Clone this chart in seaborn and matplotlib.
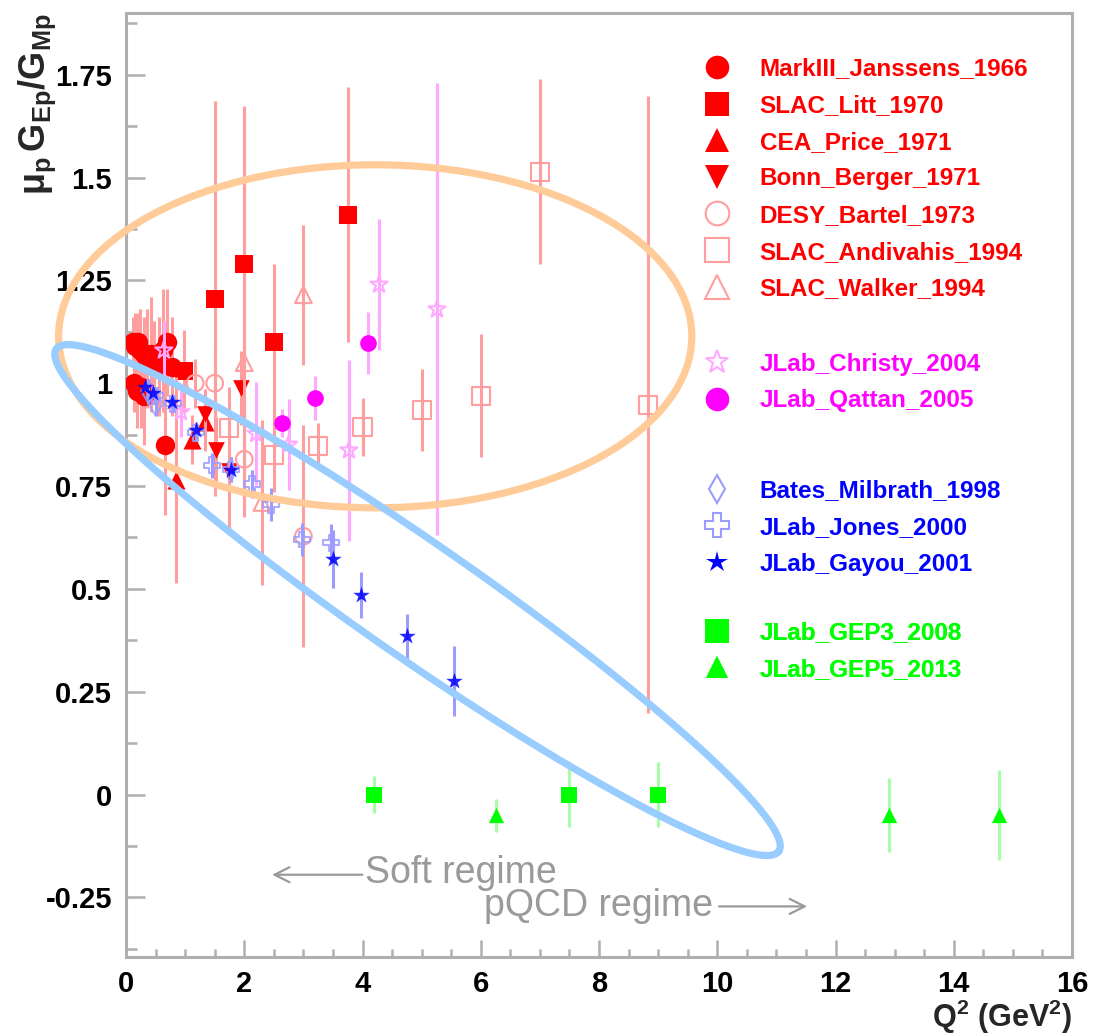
import numpy as np
import matplotlib
matplotlib.use("Agg")
import matplotlib.pyplot as plt
import seaborn as sns
from matplotlib.lines import Line2D
from matplotlib.patches import Ellipse
from matplotlib.ticker import MultipleLocator, FixedLocator, FixedFormatter

# ---------------------------------------------------------------- data
# mu_p G_Ep / G_Mp ratio versus Q^2 (GeV^2), with symmetric errors

markIII_q2 = [0.12, 0.16, 0.20, 0.24, 0.30, 0.36, 0.42, 0.48, 0.56, 0.62, 0.70, 0.78, 0.14, 0.19, 0.25, 0.31, 0.66]
markIII_ratio = [1.10, 1.09, 1.10, 1.08, 1.07, 1.06, 1.07, 1.05, 1.04, 1.08, 1.10, 1.04, 1.00, 0.98, 0.99, 0.97, 0.85]
markIII_err = [0.06, 0.08, 0.07, 0.10, 0.09, 0.12, 0.14, 0.10, 0.12, 0.15, 0.13, 0.12, 0.07, 0.09, 0.10, 0.12, 0.17]

litt_q2 = [0.98, 1.5, 2.0, 2.5, 3.75]
litt_ratio = [1.03, 1.205, 1.29, 1.10, 1.41]
litt_err = [0.10, 0.48, 0.385, 0.19, 0.31]

price_q2 = [0.85, 1.11, 1.34]
price_ratio = [0.765, 0.863, 0.905]
price_err = [0.25, 0.06, 0.07]

berger_q2 = [1.34, 1.53, 1.75, 1.95]
berger_ratio = [0.925, 0.838, 0.786, 0.988]
berger_err = [0.06, 0.08, 0.15, 0.09]

bartel_q2 = [1.17, 1.5, 2.0, 3.0]
bartel_ratio = [1.0, 1.0, 0.815, 0.628]
bartel_err = [0.06, 0.08, 0.14, 0.27]

andivahis_q2 = [1.75, 2.5, 3.25, 4.0, 5.0, 6.0, 7.0, 8.83]
andivahis_ratio = [0.891, 0.826, 0.848, 0.894, 0.934, 0.97, 1.514, 0.948]
andivahis_err = [0.10, 0.09, 0.056, 0.07, 0.10, 0.15, 0.225, 0.75]

walker_q2 = [2.0, 2.3, 3.0]
walker_ratio = [1.05, 0.71, 1.215]
walker_err = [0.145, 0.20, 0.17]

christy_q2 = [0.64, 0.93, 2.2, 2.75, 3.77, 4.28, 5.26]
christy_ratio = [1.08, 0.93, 0.877, 0.851, 0.837, 1.24, 1.18]
christy_err = [0.07, 0.06, 0.125, 0.11, 0.22, 0.16, 0.55]

qattan_q2 = [2.64, 3.2, 4.1]
qattan_ratio = [0.903, 0.964, 1.098]
qattan_err = [0.035, 0.053, 0.076]

milbrath_q2 = [0.38, 0.5]
milbrath_ratio = [0.98, 0.95]
milbrath_err = [0.03, 0.03]

jones_q2 = [0.49, 0.79, 1.18, 1.45, 1.77, 2.13, 2.45, 2.97, 3.47]
jones_ratio = [0.97, 0.95, 0.88, 0.80, 0.79, 0.755, 0.705, 0.62, 0.612]
jones_err = [0.02, 0.02, 0.02, 0.03, 0.03, 0.035, 0.04, 0.04, 0.045]

gayou_q2 = [0.32, 0.46, 0.77, 1.18, 1.77, 3.5, 3.97, 4.75, 5.54]
gayou_ratio = [0.99, 0.975, 0.955, 0.885, 0.79, 0.572, 0.485, 0.385, 0.275]
gayou_err = [0.01, 0.01, 0.015, 0.02, 0.03, 0.07, 0.055, 0.055, 0.085]

gep3_q2 = [4.2, 7.5, 9.0]
gep3_ratio = [0.0, 0.0, 0.0]
gep3_err = [0.045, 0.08, 0.08]

gep5_q2 = [6.25, 12.9, 14.77]
gep5_ratio = [-0.05, -0.05, -0.05]
gep5_err = [0.04, 0.09, 0.11]

labels = ["MarkIII_Janssens_1966", "SLAC_Litt_1970", "CEA_Price_1971", "Bonn_Berger_1971",
          "DESY_Bartel_1973", "SLAC_Andivahis_1994", "SLAC_Walker_1994",
          "JLab_Christy_2004", "JLab_Qattan_2005",
          "Bates_Milbrath_1998", "JLab_Jones_2000", "JLab_Gayou_2001",
          "JLab_GEP3_2008", "JLab_GEP5_2013"]

x_ticks = [0, 2, 4, 6, 8, 10, 12, 14, 16]
y_ticks = [-0.25, 0, 0.25, 0.5, 0.75, 1, 1.25, 1.5, 1.75]
y_tick_labels = ["-0.25", "0", "0.25", "0.5", "0.75", "1", "1.25", "1.5", "1.75"]

# ---------------------------------------------------------------- styles
RED, MAG, BLUE, GREEN = "#FF0000", "#FF00FF", "#0000FF", "#00FF00"
LRED, LMAG, LBLUE, LGREEN = "#FF9E9E", "#FFA8FF", "#9C9CFF", "#A6FFA6"

series = [
    # data, marker, size(pt), filled, marker colour, bar colour, text colour, alpha
    ((markIII_q2, markIII_ratio, markIII_err), "o", 14, True, RED, LRED, RED, 1.0),
    ((litt_q2, litt_ratio, litt_err), "s", 13, True, RED, LRED, RED, 1.0),
    ((price_q2, price_ratio, price_err), "^", 13, True, RED, LRED, RED, 1.0),
    ((berger_q2, berger_ratio, berger_err), "v", 12, True, RED, LRED, RED, 1.0),
    ((bartel_q2, bartel_ratio, bartel_err), "o", 12, False, LRED, LRED, RED, 1.0),
    ((andivahis_q2, andivahis_ratio, andivahis_err), "s", 13, False, LRED, LRED, RED, 1.0),
    ((walker_q2, walker_ratio, walker_err), "^", 12, False, LRED, LRED, RED, 1.0),
    ((christy_q2, christy_ratio, christy_err), "*", 13, False, LMAG, LMAG, MAG, 1.0),
    ((qattan_q2, qattan_ratio, qattan_err), "o", 12, True, MAG, LMAG, MAG, 1.0),
    ((milbrath_q2, milbrath_ratio, milbrath_err), "d", 12, False, LBLUE, LBLUE, BLUE, 0.8),
    ((jones_q2, jones_ratio, jones_err), "P", 11.5, False, LBLUE, LBLUE, BLUE, 0.85),
    ((gayou_q2, gayou_ratio, gayou_err), "*", 12.5, True, BLUE, LBLUE, BLUE, 0.85),
    ((gep3_q2, gep3_ratio, gep3_err), "s", 11.5, True, GREEN, LGREEN, GREEN, 1.0),
    ((gep5_q2, gep5_ratio, gep5_err), "^", 11, True, GREEN, LGREEN, GREEN, 1.0),
]

# ---------------------------------------------------------------- figure
sns.set_theme(style="ticks")
plt.rcParams["font.family"] = ["Liberation Sans", "DejaVu Sans"]
plt.rcParams["mathtext.fontset"] = "custom"
plt.rcParams["mathtext.rm"] = "Liberation Sans"
plt.rcParams["mathtext.it"] = "Liberation Sans:italic"
plt.rcParams["mathtext.bf"] = "Liberation Sans:bold"
plt.rcParams["axes.unicode_minus"] = False

fig = plt.figure(figsize=(10.93, 10.35), dpi=100)
ax = fig.add_axes([126 / 1093, 1 - 957 / 1035, 946 / 1093, 944 / 1035])
ax.set_xlim(0, 16)
ax.set_ylim(-0.395, 1.9)

z = 3
for (q2, r, e), mk, ms, filled, mcol, bcol, _, alpha in series:
    ax.errorbar(q2, r, yerr=e, fmt="none", ecolor=bcol, elinewidth=2.2,
                capsize=0, zorder=z)
    if filled:
        sns.scatterplot(x=q2, y=r, marker=mk, s=ms ** 2, color=mcol,
                        edgecolor=mcol, linewidth=0, alpha=alpha, ax=ax,
                        zorder=z + 1, legend=False)
    else:
        sns.scatterplot(x=q2, y=r, marker=mk, s=ms ** 2, color=mcol,
                        facecolor="none", edgecolor=mcol, linewidth=1.5,
                        alpha=alpha, ax=ax, zorder=z + 1, legend=False)
    z += 2

# ---------------------------------------------------------------- axes styling
GREY = "#AFAFAF"
for sp in ax.spines.values():
    sp.set_color(GREY)
    sp.set_linewidth(2.2)
ax.xaxis.set_major_locator(FixedLocator(x_ticks))
ax.xaxis.set_minor_locator(MultipleLocator(0.5))
ax.yaxis.set_major_locator(FixedLocator(y_ticks))
ax.yaxis.set_major_formatter(FixedFormatter(y_tick_labels))
ax.yaxis.set_minor_locator(MultipleLocator(0.125))
ax.tick_params(axis="both", which="both", direction="in", color=GREY,
               width=1.8, labelsize=21, labelcolor="black")
ax.tick_params(axis="y", which="major", length=14, pad=10)
ax.tick_params(axis="y", which="minor", length=8)
ax.tick_params(axis="x", which="major", length=12, pad=9)
ax.tick_params(axis="x", which="minor", length=6)
for lab in ax.get_xticklabels() + ax.get_yticklabels():
    lab.set_fontweight("bold")

ax.set_ylabel(r"$\mathbf{\mu_{p}\,G_{Ep}/G_{Mp}}$", fontsize=26, loc="top")
ax.yaxis.set_label_coords(-0.072, 1.0)
ax.set_xlabel(r"$\mathbf{Q^{2}\ (GeV^{2})}$", fontsize=22, loc="right")
ax.xaxis.set_label_coords(1.0, -0.043)
ax.xaxis.label.set_verticalalignment("top")

# ---------------------------------------------------------------- legend blocks
legend_sizes = [17, 17, 17, 17, 17, 17, 17, 17, 17, 14, 17, 16, 17, 16]
groups = [(0, 7, 0.8243), (7, 9, 0.6086), (9, 12, 0.455), (12, 14, 0.3243)]
for i0, i1, yc in groups:
    handles, texts, tcols = [], [], []
    for k in range(i0, i1):
        _, mk, _, filled, mcol, _, tcol, _ = series[k]
        handles.append(Line2D([], [], linestyle="none", marker=mk,
                              markersize=legend_sizes[k],
                              markerfacecolor=mcol if filled else "none",
                              markeredgecolor=mcol,
                              markeredgewidth=0 if filled else 1.5))
        texts.append(labels[k])
        tcols.append(tcol)
    leg = ax.legend(handles, texts, loc="center left", bbox_to_anchor=(0.6115, yc),
                    frameon=False, borderpad=0, borderaxespad=0,
                    handlelength=1.0, handletextpad=1.27, labelspacing=0.56,
                    prop={"size": 17.5, "weight": "bold"})
    for t, c in zip(leg.get_texts(), tcols):
        t.set_color(c)
    ax.add_artist(leg)

# ---------------------------------------------------------------- regime notes
NOTE = "#9A9A9A"
ax.annotate("", xy=(2.47, -0.195), xytext=(4.0, -0.195),
            arrowprops=dict(arrowstyle="->,head_length=0.9,head_width=0.45",
                            color=NOTE, lw=1.6, shrinkA=0, shrinkB=0), zorder=20)
ax.text(4.04, -0.19, "Soft regime", color=NOTE, fontsize=27, va="center", ha="left",
        zorder=20)
ax.text(6.06, -0.27, "pQCD regime", color=NOTE, fontsize=27, va="center", ha="left",
        zorder=20)
ax.annotate("", xy=(11.52, -0.272), xytext=(10.03, -0.272),
            arrowprops=dict(arrowstyle="->,head_length=0.9,head_width=0.45",
                            color=NOTE, lw=1.6, shrinkA=0, shrinkB=0), zorder=20)

# ---------------------------------------------------------------- highlight ellipses
ax.add_patch(Ellipse((4.215, 1.114), 10.71, 0.834, fill=False, edgecolor="#FFCC99",
                     linewidth=5.2, clip_on=False, zorder=30))

# tilted ellipse defined in screen pixels around a data-space centre
fig.canvas.draw()
cx, cy = ax.transData.transform((4.93, 0.4727))
a_px, b_px, phi = 440.0, 57.0, np.deg2rad(-34.8)
t = np.linspace(0, 2 * np.pi, 400)
px = cx + a_px * np.cos(t) * np.cos(phi) - b_px * np.sin(t) * np.sin(phi)
py = cy + a_px * np.cos(t) * np.sin(phi) + b_px * np.sin(t) * np.cos(phi)
ell = ax.transData.inverted().transform(np.column_stack([px, py]))
ax.plot(ell[:, 0], ell[:, 1], color="#99CCFF", linewidth=5.2, clip_on=False,
        zorder=31, solid_capstyle="round")

fig.savefig("out.png", dpi=100)
